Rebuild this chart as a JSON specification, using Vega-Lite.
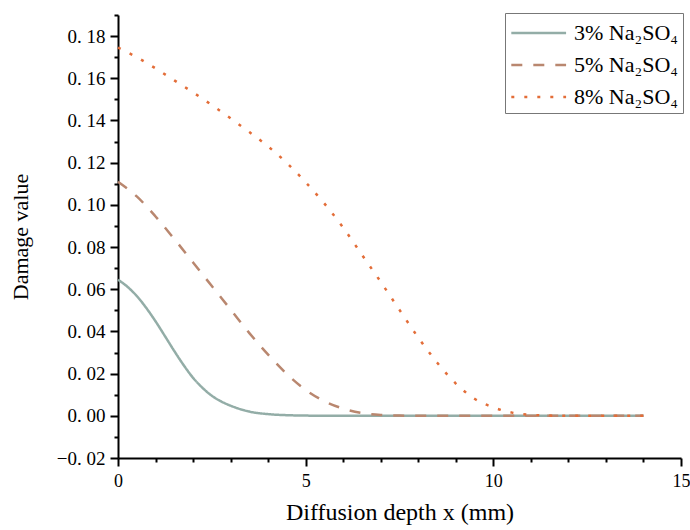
{
  "$schema": "https://vega.github.io/schema/vega-lite/v6.json",
  "width": 563,
  "height": 443,
  "autosize": {"type": "none"},
  "padding": {"left": 118, "top": 15, "right": 9, "bottom": 72},
  "background": "white",
  "config": {"view": {"stroke": null}, "font": "Liberation Serif"},
  "data": {"values": [
    {"s": "3% Na₂SO₄", "x": 0, "y": 0.0645}, {"s": "3% Na₂SO₄", "x": 0.25, "y": 0.0612}, {"s": "3% Na₂SO₄", "x": 0.5, "y": 0.0568}, {"s": "3% Na₂SO₄", "x": 0.75, "y": 0.0512},
    {"s": "3% Na₂SO₄", "x": 1.0, "y": 0.0448}, {"s": "3% Na₂SO₄", "x": 1.25, "y": 0.0378}, {"s": "3% Na₂SO₄", "x": 1.5, "y": 0.0307}, {"s": "3% Na₂SO₄", "x": 1.75, "y": 0.024},
    {"s": "3% Na₂SO₄", "x": 2.0, "y": 0.018}, {"s": "3% Na₂SO₄", "x": 2.25, "y": 0.0133}, {"s": "3% Na₂SO₄", "x": 2.5, "y": 0.0095}, {"s": "3% Na₂SO₄", "x": 2.75, "y": 0.0068},
    {"s": "3% Na₂SO₄", "x": 3.0, "y": 0.0048}, {"s": "3% Na₂SO₄", "x": 3.5, "y": 0.0020}, {"s": "3% Na₂SO₄", "x": 4.0, "y": 0.0008}, {"s": "3% Na₂SO₄", "x": 4.5, "y": 0.0003},
    {"s": "3% Na₂SO₄", "x": 5.0, "y": 0.0001}, {"s": "3% Na₂SO₄", "x": 6, "y": 0}, {"s": "3% Na₂SO₄", "x": 8, "y": 0}, {"s": "3% Na₂SO₄", "x": 10, "y": 0}, {"s": "3% Na₂SO₄", "x": 12, "y": 0}, {"s": "3% Na₂SO₄", "x": 14, "y": 0},
    {"s": "5% Na₂SO₄", "x": 0, "y": 0.111}, {"s": "5% Na₂SO₄", "x": 0.5, "y": 0.104}, {"s": "5% Na₂SO₄", "x": 1.0, "y": 0.0945}, {"s": "5% Na₂SO₄", "x": 1.5, "y": 0.0838},
    {"s": "5% Na₂SO₄", "x": 2.0, "y": 0.0727}, {"s": "5% Na₂SO₄", "x": 2.5, "y": 0.0615}, {"s": "5% Na₂SO₄", "x": 3.0, "y": 0.0504}, {"s": "5% Na₂SO₄", "x": 3.5, "y": 0.0392},
    {"s": "5% Na₂SO₄", "x": 4.0, "y": 0.029}, {"s": "5% Na₂SO₄", "x": 4.5, "y": 0.0198}, {"s": "5% Na₂SO₄", "x": 5.0, "y": 0.0123}, {"s": "5% Na₂SO₄", "x": 5.5, "y": 0.0069},
    {"s": "5% Na₂SO₄", "x": 6.0, "y": 0.0034}, {"s": "5% Na₂SO₄", "x": 6.5, "y": 0.0013}, {"s": "5% Na₂SO₄", "x": 7.0, "y": 0.0004}, {"s": "5% Na₂SO₄", "x": 7.5, "y": 0.0001},
    {"s": "5% Na₂SO₄", "x": 8, "y": 0}, {"s": "5% Na₂SO₄", "x": 10, "y": 0}, {"s": "5% Na₂SO₄", "x": 12, "y": 0}, {"s": "5% Na₂SO₄", "x": 14, "y": 0},
    {"s": "8% Na₂SO₄", "x": 0, "y": 0.1745}, {"s": "8% Na₂SO₄", "x": 0.5, "y": 0.170}, {"s": "8% Na₂SO₄", "x": 1.0, "y": 0.1647}, {"s": "8% Na₂SO₄", "x": 1.5, "y": 0.159},
    {"s": "8% Na₂SO₄", "x": 2.0, "y": 0.1533}, {"s": "8% Na₂SO₄", "x": 2.5, "y": 0.1473}, {"s": "8% Na₂SO₄", "x": 3.0, "y": 0.141}, {"s": "8% Na₂SO₄", "x": 3.5, "y": 0.1345},
    {"s": "8% Na₂SO₄", "x": 4.0, "y": 0.1277}, {"s": "8% Na₂SO₄", "x": 4.5, "y": 0.1198}, {"s": "8% Na₂SO₄", "x": 5.0, "y": 0.1107}, {"s": "8% Na₂SO₄", "x": 5.5, "y": 0.1006},
    {"s": "8% Na₂SO₄", "x": 6.0, "y": 0.0892}, {"s": "8% Na₂SO₄", "x": 6.5, "y": 0.0763}, {"s": "8% Na₂SO₄", "x": 7.0, "y": 0.0635}, {"s": "8% Na₂SO₄", "x": 7.5, "y": 0.0502},
    {"s": "8% Na₂SO₄", "x": 8.0, "y": 0.0371}, {"s": "8% Na₂SO₄", "x": 8.5, "y": 0.0253}, {"s": "8% Na₂SO₄", "x": 9.0, "y": 0.0153}, {"s": "8% Na₂SO₄", "x": 9.5, "y": 0.0081},
    {"s": "8% Na₂SO₄", "x": 10.0, "y": 0.004}, {"s": "8% Na₂SO₄", "x": 10.5, "y": 0.0015}, {"s": "8% Na₂SO₄", "x": 11.0, "y": 0.0004}, {"s": "8% Na₂SO₄", "x": 11.5, "y": 0.0001},
    {"s": "8% Na₂SO₄", "x": 12, "y": 0}, {"s": "8% Na₂SO₄", "x": 13, "y": 0}, {"s": "8% Na₂SO₄", "x": 14, "y": 0}
  ]},
  "mark": {"type": "line", "strokeWidth": 2.5, "interpolate": "monotone"},
  "encoding": {
    "x": {
      "field": "x", "type": "quantitative",
      "scale": {"domain": [0, 15], "nice": false, "zero": false},
      "axis": {
        "title": "Diffusion depth x (mm)",
        "values": [0, 1, 2, 3, 4, 5, 6, 7, 8, 9, 10, 11, 12, 13, 14, 15],
        "labelExpr": "datum.value % 5 == 0 ? datum.label : ''",
        "tickSize": {"condition": {"test": "datum.value % 5 == 0", "value": 8}, "value": 4},
        "grid": false,
        "domainColor": "black", "domainWidth": 2,
        "tickColor": "black", "tickWidth": 2,
        "labelColor": "black", "labelFontSize": 18, "labelPadding": 6,
        "labelOverlap": false, "labelFlush": false,
        "titleColor": "black", "titleFontSize": 24, "titleFontWeight": "normal", "titlePadding": 10
      }
    },
    "y": {
      "field": "y", "type": "quantitative",
      "scale": {"domain": [-0.02, 0.19], "nice": false, "zero": false},
      "axis": {
        "title": "Damage value",
        "values": [-0.02, -0.01, 0, 0.01, 0.02, 0.03, 0.04, 0.05, 0.06, 0.07, 0.08, 0.09, 0.1, 0.11, 0.12, 0.13, 0.14, 0.15, 0.16, 0.17, 0.18, 0.19],
        "labelExpr": "round(datum.value * 100) % 2 == 0 ? replace(format(datum.value, '.2f'), '.', '. ') : ''",
        "tickSize": {"condition": {"test": "round(datum.value * 100) % 2 == 0", "value": 8}, "value": 4},
        "grid": false,
        "domainColor": "black", "domainWidth": 2,
        "tickColor": "black", "tickWidth": 2,
        "labelColor": "black", "labelFontSize": 19, "labelPadding": 5,
        "labelOverlap": false, "labelFlush": false,
        "titleColor": "black", "titleFontSize": 22, "titleFontWeight": "normal", "titlePadding": 24
      }
    },
    "color": {
      "field": "s", "type": "nominal",
      "scale": {"domain": ["3% Na₂SO₄", "5% Na₂SO₄", "8% Na₂SO₄"], "range": ["#93ada7", "#b9876f", "#e36d38"]},
      "legend": {
        "title": null, "orient": "none", "legendX": 387, "legendY": -2,
        "strokeColor": "#777777", "padding": 5, "fillColor": "white",
        "symbolType": "M-1,0H3", "symbolSize": 750, "symbolStrokeWidth": 2.5,
        "labelFontSize": 22, "labelColor": "black", "labelOffset": 34, "rowPadding": 6, "labelLimit": 0
      }
    },
    "strokeDash": {
      "field": "s", "type": "nominal",
      "scale": {"domain": ["3% Na₂SO₄", "5% Na₂SO₄", "8% Na₂SO₄"], "range": [[1, 0], [11, 11], [3, 10]]},
      "legend": {
        "title": null, "orient": "none", "legendX": 387, "legendY": -2,
        "strokeColor": "#777777", "padding": 5, "fillColor": "white",
        "symbolType": "M-1,0H3", "symbolSize": 750, "symbolStrokeWidth": 2.5,
        "labelFontSize": 22, "labelColor": "black", "labelOffset": 34, "rowPadding": 6, "labelLimit": 0
      }
    }
  }
}
